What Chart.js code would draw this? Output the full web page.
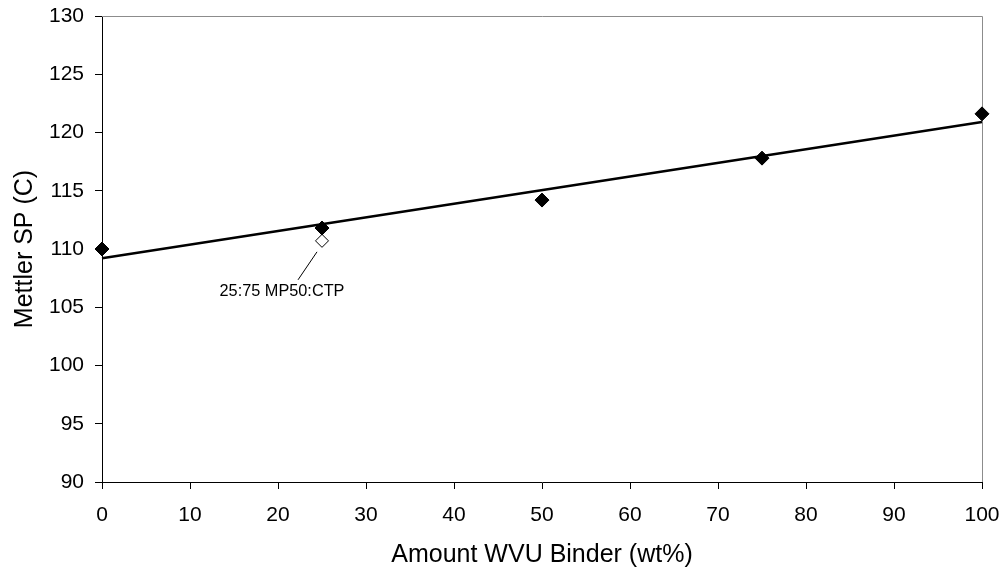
<!DOCTYPE html>
<html>
<head>
<meta charset="utf-8">
<script src="https://cdn.jsdelivr.net/npm/chart.js@4/dist/chart.umd.min.js"></script>
<style>
  html, body { margin: 0; padding: 0; background: #fff; }
  #wrap { width: 1003px; height: 575px; position: relative; }
</style>
</head>
<body>
<div id="wrap"><canvas id="c" width="1003" height="575"></canvas></div>
<script>
// ---- Data ----
const binderPct = [0, 25, 50, 75, 100];
const mettlerSP = [110.0, 111.8, 114.2, 117.8, 121.6];
const blendX = [25];
const blendY = [110.7];
const blendLabel = "25:75 MP50:CTP";
const trendX = [0, 100];
const trendY = [109.2, 120.9];
const xTicks = [0, 10, 20, 30, 40, 50, 60, 70, 80, 90, 100];
const yTicks = [90, 95, 100, 105, 110, 115, 120, 125, 130];

const FONT = "'Liberation Sans', Arial, sans-serif";

const mainPts = binderPct.map((x, i) => ({ x, y: mettlerSP[i] }));
const blendPts = blendX.map((x, i) => ({ x, y: blendY[i] }));
const trendPts = trendX.map((x, i) => ({ x, y: trendY[i] }));

function zeroPad(s) {
  s.paddingTop = 0; s.paddingBottom = 0; s.paddingLeft = 0; s.paddingRight = 0;
}

const framePlugin = {
  id: 'frame',
  beforeDatasetsDraw(chart) {
    const { ctx, chartArea: a } = chart;
    ctx.save();
    ctx.strokeStyle = '#8c8c8c';
    ctx.lineWidth = 1;
    ctx.beginPath();
    ctx.moveTo(a.left, a.top + 0.5);
    ctx.lineTo(a.right + 0.5, a.top + 0.5);
    ctx.lineTo(a.right + 0.5, a.bottom);
    ctx.stroke();
    ctx.restore();
  },
  afterDatasetsDraw(chart) {
    const { ctx } = chart;
    const xs = chart.scales.x, ys = chart.scales.y;
    const px = xs.getPixelForValue(blendX[0]);
    const py = ys.getPixelForValue(blendY[0]);
    ctx.save();
    ctx.strokeStyle = '#000';
    ctx.lineWidth = 1;
    ctx.beginPath();
    ctx.moveTo(px - 5, py + 11);
    ctx.lineTo(px - 24, py + 39);
    ctx.stroke();
    ctx.fillStyle = '#000';
    ctx.font = "16.3px " + FONT;
    ctx.textAlign = 'center';
    ctx.textBaseline = 'middle';
    ctx.fillText(blendLabel, px - 40, py + 51);
    ctx.restore();
  }
};

new Chart(document.getElementById('c'), {
  type: 'scatter',
  data: {
    datasets: [
      {
        label: 'WVU',
        data: mainPts,
        pointStyle: 'rectRot',
        pointRadius: 7,
        pointHoverRadius: 7,
        backgroundColor: '#000',
        borderColor: '#000',
        borderWidth: 1,
        clip: false
      },
      {
        label: 'Blend',
        data: blendPts,
        pointStyle: 'rectRot',
        pointRadius: 6.5,
        pointHoverRadius: 6.5,
        backgroundColor: '#fff',
        borderColor: '#000',
        borderWidth: 1,
        clip: false
      },
      {
        type: 'line',
        label: 'Trend',
        data: trendPts,
        borderColor: '#000',
        borderWidth: 2.5,
        pointRadius: 0,
        fill: false,
        clip: false
      }
    ]
  },
  options: {
    responsive: false,
    animation: false,
    events: [],
    layout: { padding: { left: 0, top: 16, right: 21, bottom: 0 } },
    plugins: { legend: { display: false }, tooltip: { enabled: false } },
    scales: {
      x: {
        type: 'linear',
        min: 0, max: 100,
        afterFit(s) { s.height = 93; zeroPad(s); },
        afterBuildTicks(s) { s.ticks = xTicks.map(v => ({ value: v })); },
        border: { display: true, color: '#000', width: 1 },
        grid: { drawOnChartArea: false, drawTicks: true, tickLength: 7, color: '#000' },
        ticks: { color: '#000', font: { family: FONT, size: 21 }, padding: 14, maxRotation: 0 },
        title: { display: true, text: 'Amount WVU Binder (wt%)', color: '#000',
                 font: { family: FONT, size: 25 }, padding: { top: 0, bottom: 5 } }
      },
      y: {
        type: 'linear',
        min: 90, max: 130,
        afterFit(s) { s.width = 102; zeroPad(s); },
        afterBuildTicks(s) { s.ticks = yTicks.map(v => ({ value: v })); },
        border: { display: true, color: '#000', width: 1 },
        grid: { drawOnChartArea: false, drawTicks: true, tickLength: 7, color: '#000' },
        ticks: { color: '#000', font: { family: FONT, size: 21 }, padding: 11 },
        title: { display: true, text: 'Mettler SP (C)', color: '#000',
                 font: { family: FONT, size: 25 }, padding: { top: 10, bottom: 0 } }
      }
    }
  },
  plugins: [framePlugin]
});
</script>
</body>
</html>
